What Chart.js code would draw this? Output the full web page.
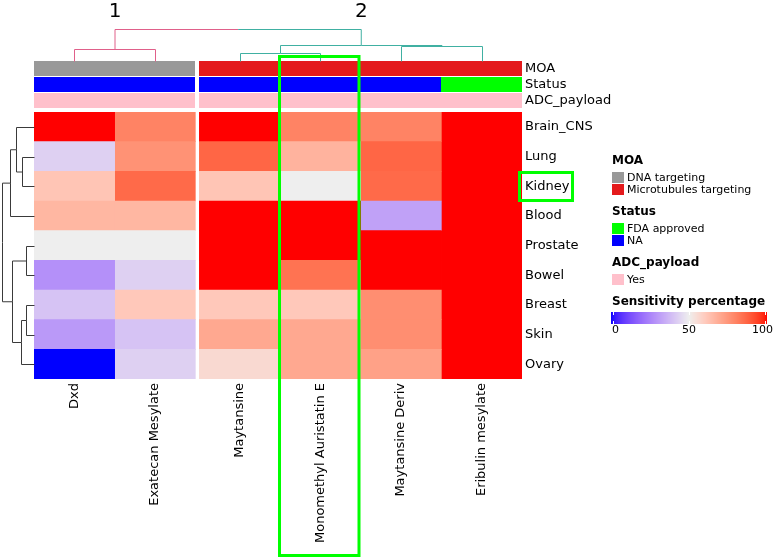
<!DOCTYPE html>
<html>
<head>
<meta charset="utf-8">
<script src="https://cdn.jsdelivr.net/npm/chart.js@4.4.0/dist/chart.umd.min.js"></script>
<style>
  html, body { margin: 0; padding: 0; background: #fff; }
  #wrap { width: 775px; height: 557px; position: relative; }
</style>
</head>
<body>
<div id="wrap"><canvas id="chart"></canvas></div>
<script>
// rows (tissues) and columns (drugs), in dendrogram order
const tissues = ["Brain_CNS", "Lung", "Kidney", "Blood", "Prostate", "Bowel", "Breast", "Skin", "Ovary"];
const drugs = ["Dxd", "Exatecan Mesylate", "Maytansine", "Monomethyl Auristatin E", "Maytansine Deriv", "Eribulin mesylate"];

// sensitivity percentage per drug, one value per tissue
const dxd        = [100, 43, 62, 66, 50, 28, 40, 30, 0];
const exatecan   = [80, 76, 86, 66, 50, 43, 61, 40, 43];
const maytansine = [100, 87, 62, 100, 100, 100, 61, 70, 56];
const mmae       = [80, 67, 50, 100, 100, 84, 61, 70, 70];
const maytDeriv  = [80, 87, 86, 32, 100, 100, 77, 77, 72];
const eribulin   = [100, 100, 100, 100, 100, 100, 100, 100, 100];

// column annotations
const moa = ["DNA targeting", "DNA targeting", "Microtubules targeting", "Microtubules targeting", "Microtubules targeting", "Microtubules targeting"];
const status = ["NA", "NA", "NA", "NA", "NA", "FDA approved"];
const adcPayload = ["Yes", "Yes", "Yes", "Yes", "Yes", "Yes"];

// dendrograms: leaves are indexes, h = merge height
const colTree = { h: 32, l: { h: 12.5, l: 0, r: 1 }, r: { h: 16, l: { h: 7.8, l: 2, r: 3 }, r: { h: 14.8, l: 4, r: 5 } } };
const rowTree = { h: 32.3,
  l: { h: 24, l: { h: 18.3, l: 0, r: { h: 11.7, l: 1, r: 2 } }, r: 3 },
  r: { h: 21.7, l: { h: 8.3, l: 4, r: 5 }, r: { h: 13.3, l: { h: 8, l: 6, r: 7 }, r: 8 } } };
const clusterLabels = ["1", "2"];

const annoColors = {
  MOA: { "DNA targeting": "#999999", "Microtubules targeting": "#e41a1c" },
  Status: { "FDA approved": "#00ff00", "NA": "#0000ff" },
  ADC_payload: { "Yes": "#ffc0cb" }
};
const annoTracks = [["MOA", moa], ["Status", status], ["ADC_payload", adcPayload]];

// colour ramp 0 / 50 / 100 interpolated in LAB
const toLin = c => { c /= 255; return c <= 0.04045 ? c / 12.92 : Math.pow((c + 0.055) / 1.055, 2.4); };
const toSrgb = c => { c = c <= 0.0031308 ? 12.92 * c : 1.055 * Math.pow(c, 1 / 2.4) - 0.055; return Math.round(Math.max(0, Math.min(1, c)) * 255); };
const fL = t => t > 0.008856 ? Math.cbrt(t) : 7.787 * t + 16 / 116;
const fLi = t => t > 0.206893 ? t * t * t : (t - 16 / 116) / 7.787;
function rgb2lab([r, g, b]) {
  const R = toLin(r), G = toLin(g), B = toLin(b);
  const X = (0.4124 * R + 0.3576 * G + 0.1805 * B) / 0.95047;
  const Y = 0.2126 * R + 0.7152 * G + 0.0722 * B;
  const Z = (0.0193 * R + 0.1192 * G + 0.9505 * B) / 1.08883;
  return [116 * fL(Y) - 16, 500 * (fL(X) - fL(Y)), 200 * (fL(Y) - fL(Z))];
}
function lab2rgb([L, a, b]) {
  const fy = (L + 16) / 116, fx = fy + a / 500, fz = fy - b / 200;
  const X = fLi(fx) * 0.95047, Y = fLi(fy), Z = fLi(fz) * 1.08883;
  return [toSrgb(3.2406 * X - 1.5372 * Y - 0.4986 * Z), toSrgb(-0.9689 * X + 1.8758 * Y + 0.0415 * Z), toSrgb(0.0557 * X - 0.2040 * Y + 1.0570 * Z)];
}
const rampBreaks = [0, 50, 100];
const rampLab = [[0, 0, 255], [238, 238, 238], [255, 0, 0]].map(rgb2lab);
function sensColor(v) {
  const k = v <= rampBreaks[1] ? 0 : 1;
  const t = (v - rampBreaks[k]) / (rampBreaks[k + 1] - rampBreaks[k]);
  const a = rampLab[k], b = rampLab[k + 1];
  const c = lab2rgb([0, 1, 2].map(j => a[j] + (b[j] - a[j]) * t));
  return `rgb(${c[0]},${c[1]},${c[2]})`;
}

const columns = [dxd, exatecan, maytansine, mmae, maytDeriv, eribulin];
const splitGap = 0.05;
const colStart = drugs.map((d, i) => i + (i >= 2 ? splitGap : 0));
const FONT = "DejaVu Sans";

function drawTree(ctx, node, leafPos, heightPos, horizontal, color, palette) {
  if (typeof node === "number") return { pos: leafPos(node), h: 0 };
  const kids = [node.l, node.r].map((k, i) => {
    const c = color || palette[i];
    return { res: drawTree(ctx, k, leafPos, heightPos, horizontal, c, palette), c };
  });
  const mid = (kids[0].res.pos + kids[1].res.pos) / 2;
  kids.forEach(({ res, c }) => {
    ctx.strokeStyle = c;
    ctx.beginPath();
    if (horizontal) {
      ctx.moveTo(res.pos, heightPos(res.h));
      ctx.lineTo(res.pos, heightPos(node.h));
      ctx.lineTo(mid, heightPos(node.h));
    } else {
      ctx.moveTo(heightPos(res.h), res.pos);
      ctx.lineTo(heightPos(node.h), res.pos);
      ctx.lineTo(heightPos(node.h), mid);
    }
    ctx.stroke();
  });
  return { pos: mid, h: node.h, kids };
}

const heatmapExtras = {
  id: "heatmapExtras",
  afterDraw(chart) {
    const { ctx, chartArea: area, scales: { x, y } } = chart;
    ctx.save();
    const colL = i => Math.round(x.getPixelForValue(colStart[i]));
    const colR = i => Math.round(x.getPixelForValue(colStart[i] + 1));

    // annotation tracks
    const trackH = 15, trackStep = 16;
    const trackTop0 = area.top - 4 - trackStep * annoTracks.length + 1;
    annoTracks.forEach(([name, vals], k) => {
      const top = trackTop0 + k * trackStep;
      vals.forEach((v, i) => {
        ctx.fillStyle = annoColors[name][v];
        const r = (i === 1 || i === vals.length - 1) ? colR(i) : colR(i) + 1;
        ctx.fillRect(colL(i), top, r - colL(i), trackH);
      });
      ctx.fillStyle = "#000";
      ctx.font = `13px "${FONT}"`;
      ctx.textAlign = "left";
      ctx.textBaseline = "middle";
      ctx.fillText(name, area.right + 3, top + trackH / 2 + 0.5);
    });

    // column dendrogram
    const leafTop = trackTop0;
    ctx.lineWidth = 1;
    const colRoot = drawTree(ctx, colTree,
      i => Math.round(x.getPixelForValue(colStart[i] + 0.5)) + 0.5,
      h => Math.round(leafTop - h) + 0.5, true, null, ["#e0608a", "#40b0a2"]);
    ctx.fillStyle = "#000";
    ctx.font = `20px "${FONT}"`;
    ctx.textAlign = "center";
    ctx.textBaseline = "middle";
    colRoot.kids.forEach((k, i) => ctx.fillText(clusterLabels[i], k.res.pos, 12));

    // row dendrogram
    drawTree(ctx, rowTree,
      i => Math.round(y.getPixelForValue(i)) + 0.5,
      h => Math.round(area.left - h) + 0.5, false, "#3a3a3a", null);

    // legend
    const lx = 612;
    ctx.textAlign = "left";
    ctx.textBaseline = "middle";
    const title = (t, yy) => { ctx.fillStyle = "#000"; ctx.font = `bold 12px "${FONT}"`; ctx.fillText(t, lx, yy); };
    const item = (c, t, yy) => {
      ctx.fillStyle = c; ctx.fillRect(lx, yy, 12, 11);
      ctx.fillStyle = "#000"; ctx.font = `11px "${FONT}"`; ctx.fillText(t, lx + 15, yy + 6);
    };
    let ly = 161;
    annoTracks.forEach(([name, vals]) => {
      title(name, ly);
      const keys = [...new Set(vals)].sort();
      keys.forEach((kk, j) => item(annoColors[name][kk], kk, ly + 11 + j * 12));
      ly += 11 + keys.length * 12 + 16;
    });
    title("Sensitivity percentage", 302);
    const bx0 = 611, bx1 = 767, by = 312, bh = 12;
    for (let px = bx0; px < bx1; px++) {
      ctx.fillStyle = sensColor((px - bx0 + 0.5) / (bx1 - bx0) * 100);
      ctx.fillRect(px, by, 1, bh);
    }
    ctx.strokeStyle = "#fff";
    rampBreaks.forEach(b => {
      const px = Math.round(bx0 + 2 + (bx1 - bx0 - 4) * b / 100) + 0.5;
      ctx.beginPath();
      ctx.moveTo(px, by); ctx.lineTo(px, by + 3);
      ctx.moveTo(px, by + bh - 3); ctx.lineTo(px, by + bh);
      ctx.stroke();
    });
    ctx.fillStyle = "#000";
    ctx.font = `11px "${FONT}"`;
    ctx.textAlign = "left"; ctx.fillText(String(rampBreaks[0]), bx0 + 1, 330);
    ctx.textAlign = "center"; ctx.fillText(String(rampBreaks[1]), (bx0 + bx1) / 2, 330);
    ctx.textAlign = "right"; ctx.fillText(String(rampBreaks[2]), 773, 330);

    // highlight boxes
    ctx.strokeStyle = "#00ff00";
    ctx.lineWidth = 3;
    const hc = drugs.indexOf("Monomethyl Auristatin E");
    ctx.strokeRect(colL(hc) - 0.5, 56.5, colR(hc) - colL(hc) - 1.5, 499);
    const hr = tissues.indexOf("Kidney");
    const ry = y.getPixelForValue(hr);
    ctx.strokeRect(area.right - 2.5, Math.round(ry - 14) + 0.5, 53, 28);
    ctx.restore();
  }
};

new Chart(document.getElementById("chart"), {
  type: "bar",
  data: {
    labels: tissues,
    datasets: columns.map((vals, i) => ({
      label: drugs[i],
      data: vals.map(() => [colStart[i], colStart[i] + 1]),
      backgroundColor: vals.map(sensColor),
      borderWidth: 0,
      barPercentage: 1,
      categoryPercentage: 1,
      grouped: false
    }))
  },
  options: {
    indexAxis: "y",
    responsive: true,
    maintainAspectRatio: false,
    animation: false,
    events: [],
    layout: { padding: { left: 34, top: 112, right: 0, bottom: 0 } },
    plugins: { legend: { display: false }, tooltip: { enabled: false } },
    scales: {
      x: {
        type: "linear", position: "bottom", min: 0, max: 6 + splitGap,
        grid: { display: false, drawTicks: false }, border: { display: false },
        afterBuildTicks: s => { s.ticks = colStart.map(v => ({ value: v + 0.5 })); },
        afterFit: s => { s.height = 178; },
        ticks: {
          autoSkip: false, minRotation: 90, maxRotation: 90, padding: 4, color: "#000",
          font: { family: FONT, size: 13 },
          callback: (v, i) => drugs[i]
        }
      },
      y: {
        position: "right",
        grid: { display: false, drawTicks: false }, border: { display: false },
        afterFit: s => { s.width = 253; },
        ticks: { padding: 3, color: "#000", font: { family: FONT, size: 13 } }
      }
    }
  },
  plugins: [heatmapExtras]
});
</script>
</body>
</html>
